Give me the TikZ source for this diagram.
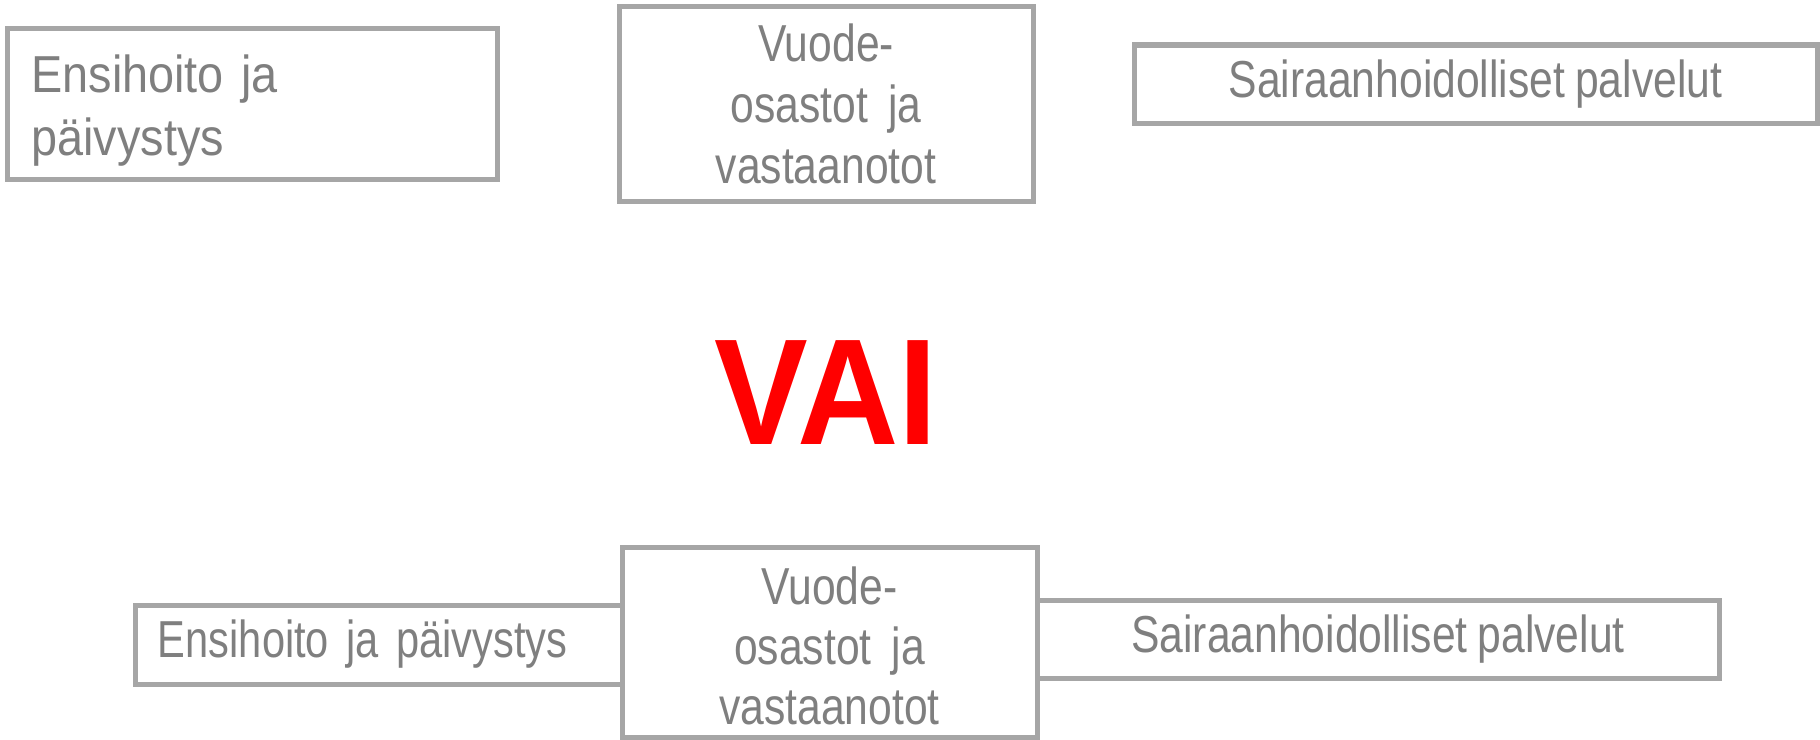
\documentclass[tikz,border=0pt]{standalone}
\usepackage{fontspec}
\setmainfont{Liberation Sans}[FakeStretch=0.82, WordSpace=0.85]
\newfontfamily\widefont{Liberation Sans}[FakeStretch=0.9]
\newfontfamily\narrowfont{Liberation Sans}[FakeStretch=0.80, WordSpace=0.75]
\newfontfamily\vaifont{Liberation Sans}[FakeStretch=0.93]
\usepackage{xcolor}
\definecolor{boxgray}{HTML}{A6A6A6}
\definecolor{txtgray}{HTML}{7F7F7F}
\definecolor{vaired}{HTML}{FF0000}
\begin{document}
\begin{tikzpicture}[x=0.4pt,y=-0.4pt,
  box/.style={draw=boxgray, line width=2pt, fill=white, rectangle, inner sep=0pt,
    text=txtgray, font=\fontsize{20.8}{24.4}\selectfont},
  leftbox/.style={box, align=left},
  midbox/.style={box, align=center},
  txt/.style={inner sep=0pt, text=txtgray, font=\fontsize{20.8}{24.4}\selectfont},
  vai/.style={text=vaired, inner sep=0pt, font=\vaifont\fontsize{60.4}{61}\selectfont\bfseries}]
\useasboundingbox (0,0) rectangle (1820,740);
% top row
\node[box, minimum width=195.6pt, minimum height=60pt] (tl) at (252.5,104) {};
\node[txt, anchor=west, align=left, text width=180pt, font=\widefont\fontsize{20.8}{25.2}\selectfont] (tltext)
  at (31,111) {Ensihoito ja\\päivystys};
\node[midbox, minimum width=165.6pt, minimum height=77.6pt] (tm) at (826,104)
  {Vuode-\\osastot\ \ ja\\vastaanotot};
\node[midbox, minimum width=273.2pt, minimum height=31.2pt] (tr) at (1475.5,84)
  {Sairaanhoidolliset palvelut};
% VAI
\node[vai] (or) at (826,393) {VAI};
% bottom row
\node[leftbox, minimum width=194.4pt, minimum height=31.6pt, text width=176.8pt,
  font=\narrowfont\fontsize{20.8}{24.4}\selectfont] (bl) at (379,644.5)
  {Ensihoito ja päivystys};
\node[midbox, minimum width=272.8pt, minimum height=31.2pt] (br) at (1378,639)
  {Sairaanhoidolliset palvelut};
\node[box, minimum width=166pt, minimum height=76pt] (bm) at (829.5,642) {};
\node[txt, align=center, font=\fontsize{20.8}{24}\selectfont] (bmtext) at (829.5,646)
  {Vuode-\\osastot\ \ ja\\vastaanotot};
\end{tikzpicture}
\end{document}
